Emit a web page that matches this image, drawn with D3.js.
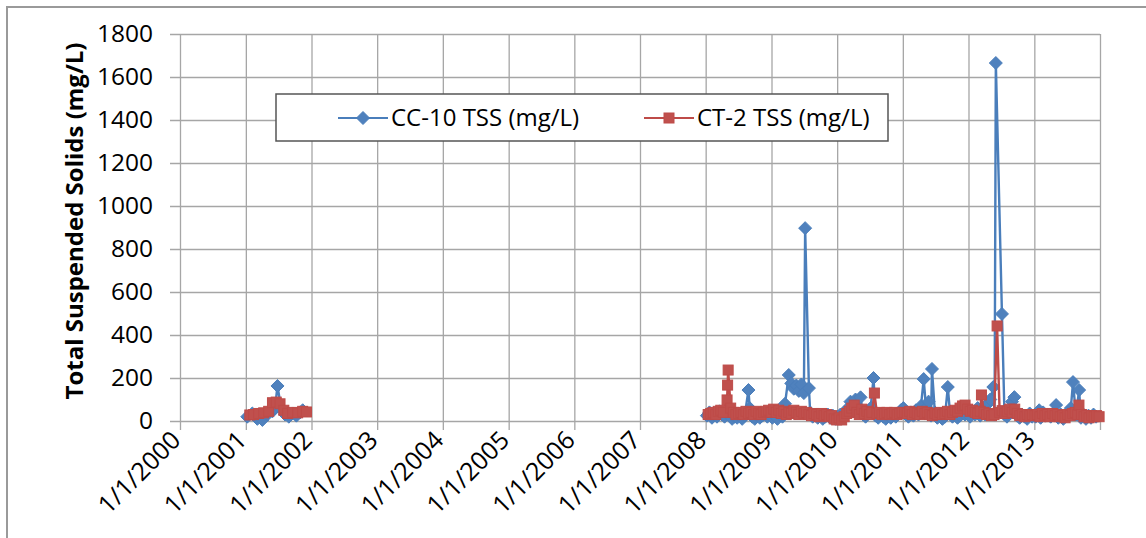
<!DOCTYPE html>
<html>
<head>
<meta charset="utf-8">
<script src="https://cdn.jsdelivr.net/npm/d3@7"></script>
<style>
  html, body { margin: 0; padding: 0; background: #fff; }
  svg { display: block; font-family: "Open Sans", sans-serif; }
</style>
</head>
<body>
<svg id="chart" width="1146" height="538"></svg>
<script>
// Sampling records: [date, TSS in mg/L]
const cc10 = [
  ["2001-01-09",20],["2001-02-06",35],["2001-03-06",10],["2001-04-03",5],["2001-05-01",30],["2001-05-29",45],
  ["2001-06-12",60],["2001-06-26",163],["2001-07-17",55],["2001-08-07",30],["2001-08-28",20],["2001-09-18",35],
  ["2001-10-09",25],["2001-10-30",40],["2001-11-13",50],
  ["2008-01-08",25],["2008-01-22",40],["2008-02-05",15],["2008-02-19",30],["2008-03-04",20],["2008-03-18",45],
  ["2008-04-01",30],["2008-04-15",20],["2008-04-29",50],["2008-05-13",25],["2008-05-27",10],["2008-06-10",20],
  ["2008-06-24",15],["2008-07-08",30],["2008-07-22",10],["2008-08-05",25],["2008-08-26",144],["2008-09-02",60],
  ["2008-09-16",20],["2008-09-30",10],["2008-10-14",30],["2008-10-28",15],["2008-11-11",25],["2008-11-25",40],
  ["2008-12-09",20],["2008-12-23",30],
  ["2009-01-06",15],["2009-01-20",25],["2009-02-03",10],["2009-02-17",30],["2009-03-03",20],["2009-03-17",80],
  ["2009-04-07",214],["2009-04-21",175],["2009-05-05",150],["2009-05-19",165],["2009-06-02",140],["2009-06-16",170],
  ["2009-06-30",130],["2009-07-07",897],["2009-07-28",153],["2009-08-04",40],["2009-08-18",20],["2009-09-01",30],
  ["2009-09-15",15],["2009-09-29",25],["2009-10-13",10],["2009-10-27",20],["2009-11-10",30],["2009-11-24",15],
  ["2009-12-08",25],["2009-12-22",10],
  ["2010-01-05",20],["2010-01-19",30],["2010-02-02",15],["2010-02-16",40],["2010-03-02",60],["2010-03-16",90],
  ["2010-03-30",45],["2010-04-13",100],["2010-04-27",50],["2010-05-11",110],["2010-05-25",30],["2010-06-08",20],
  ["2010-06-22",40],["2010-07-06",60],["2010-07-22",200],["2010-08-03",25],["2010-08-17",15],["2010-08-31",30],
  ["2010-09-14",20],["2010-09-28",10],["2010-10-12",25],["2010-10-26",15],["2010-11-09",30],["2010-11-23",20],
  ["2010-12-07",35],["2010-12-21",50],
  ["2011-01-04",60],["2011-01-18",30],["2011-02-01",20],["2011-02-15",40],["2011-03-01",25],["2011-03-15",50],
  ["2011-03-29",30],["2011-04-12",70],["2011-04-27",195],["2011-05-10",60],["2011-05-24",90],["2011-06-07",25],
  ["2011-06-12",242],["2011-06-28",40],["2011-07-12",15],["2011-07-26",25],["2011-08-09",10],["2011-08-23",20],
  ["2011-09-08",158],["2011-09-20",40],["2011-10-04",20],["2011-10-18",35],["2011-11-01",15],["2011-11-15",25],
  ["2011-11-29",40],["2011-12-13",30],["2011-12-27",50],
  ["2012-01-10",20],["2012-01-24",40],["2012-02-07",30],["2012-02-21",60],["2012-03-06",25],["2012-03-20",50],
  ["2012-04-03",30],["2012-04-17",80],["2012-05-01",100],["2012-05-18",158],["2012-05-25",30],["2012-06-01",1665],
  ["2012-07-05",498],["2012-07-19",30],["2012-08-02",20],["2012-08-16",40],["2012-08-30",90],["2012-09-12",111],
  ["2012-09-27",25],["2012-10-11",15],["2012-10-25",30],["2012-11-08",20],["2012-11-22",10],["2012-12-06",35],
  ["2012-12-20",20],
  ["2013-01-08",20],["2013-01-28",50],["2013-02-05",15],["2013-02-19",40],["2013-03-05",25],["2013-03-19",30],
  ["2013-04-02",20],["2013-04-16",35],["2013-05-02",74],["2013-05-14",15],["2013-05-28",30],["2013-06-11",10],
  ["2013-06-25",25],["2013-07-09",40],["2013-07-23",60],["2013-08-04",181],["2013-08-20",30],["2013-09-07",144],
  ["2013-09-17",15],["2013-10-01",30],["2013-10-15",10],["2013-10-29",25],["2013-11-12",15],["2013-11-26",30],
  ["2013-12-10",20]
];

const ct2 = [
  ["2001-01-23",28],["2001-02-13",30],["2001-03-13",35],["2001-04-10",38],["2001-05-08",45],["2001-05-29",85],
  ["2001-06-19",88],["2001-07-10",80],["2001-07-31",50],["2001-08-21",35],["2001-09-18",40],["2001-10-16",38],
  ["2001-11-13",45],["2001-12-04",42],
  ["2008-01-15",30],["2008-01-29",35],["2008-02-12",40],["2008-02-26",30],["2008-03-11",45],["2008-03-25",50],
  ["2008-04-08",40],["2008-04-29",98],["2008-05-02",167],["2008-05-05",237],["2008-05-19",60],["2008-06-03",40],
  ["2008-06-17",30],["2008-07-01",35],["2008-07-15",40],["2008-07-29",30],["2008-08-12",45],["2008-08-26",35],
  ["2008-09-09",40],["2008-09-23",30],["2008-10-07",45],["2008-10-21",35],["2008-11-04",30],["2008-11-18",40],
  ["2008-12-02",45],["2008-12-16",50],["2008-12-30",40],
  ["2009-01-13",55],["2009-01-27",40],["2009-02-10",50],["2009-02-24",35],["2009-03-10",45],["2009-03-24",30],
  ["2009-04-07",40],["2009-04-21",35],["2009-05-05",50],["2009-05-19",40],["2009-06-02",30],["2009-06-16",45],
  ["2009-06-30",35],["2009-07-14",40],["2009-07-28",30],["2009-08-11",25],["2009-08-25",35],["2009-09-08",30],
  ["2009-09-22",20],["2009-10-06",35],["2009-10-20",25],["2009-11-03",30],["2009-11-17",20],["2009-12-01",25],
  ["2009-12-15",10],["2009-12-29",5],
  ["2010-01-12",15],["2010-01-26",5],["2010-02-09",20],["2010-02-23",35],["2010-03-09",45],["2010-03-23",60],
  ["2010-04-06",74],["2010-04-20",40],["2010-05-04",30],["2010-05-18",55],["2010-06-01",35],["2010-06-15",45],
  ["2010-06-29",30],["2010-07-13",40],["2010-07-27",130],["2010-08-10",35],["2010-08-24",40],["2010-09-07",30],
  ["2010-09-21",35],["2010-10-05",40],["2010-10-19",30],["2010-11-02",35],["2010-11-16",40],["2010-11-30",30],
  ["2010-12-14",35],["2010-12-28",40],
  ["2011-01-11",40],["2011-01-25",35],["2011-02-08",45],["2011-02-22",30],["2011-03-08",40],["2011-03-22",35],
  ["2011-04-05",30],["2011-04-19",45],["2011-05-03",35],["2011-05-17",40],["2011-05-31",30],["2011-06-14",25],
  ["2011-06-28",35],["2011-07-12",30],["2011-07-26",40],["2011-08-09",30],["2011-08-23",35],["2011-09-06",45],
  ["2011-09-20",30],["2011-10-04",40],["2011-10-18",50],["2011-11-01",45],["2011-11-15",60],["2011-11-29",70],
  ["2011-12-13",74],["2011-12-27",55],
  ["2012-01-10",45],["2012-01-24",50],["2012-02-07",40],["2012-02-21",35],["2012-03-06",45],["2012-03-13",121],
  ["2012-03-27",40],["2012-04-10",30],["2012-04-24",35],["2012-05-08",25],["2012-05-22",30],["2012-06-08",442],
  ["2012-06-22",40],["2012-07-06",48],["2012-07-20",35],["2012-08-03",45],["2012-08-17",55],["2012-08-31",40],
  ["2012-09-14",55],["2012-09-28",35],["2012-10-12",25],["2012-10-26",30],["2012-11-09",20],["2012-11-23",30],
  ["2012-12-07",25],["2012-12-21",30],
  ["2013-01-04",25],["2013-01-18",30],["2013-02-01",20],["2013-02-15",35],["2013-03-01",25],["2013-03-15",30],
  ["2013-03-29",20],["2013-04-12",35],["2013-04-26",25],["2013-05-10",30],["2013-05-24",20],["2013-06-07",25],
  ["2013-06-21",15],["2013-07-05",30],["2013-07-19",25],["2013-08-02",35],["2013-08-16",40],["2013-08-30",30],
  ["2013-09-06",74],["2013-09-20",30],["2013-10-04",20],["2013-10-18",25],["2013-11-01",15],["2013-11-15",25],
  ["2013-11-29",20],["2013-12-13",25],["2013-12-27",20]
];

const yTicks = [0, 200, 400, 600, 800, 1000, 1200, 1400, 1600, 1800];
const xYears = [2000, 2001, 2002, 2003, 2004, 2005, 2006, 2007, 2008, 2009, 2010, 2011, 2012, 2013, 2014];
const seriesNames = ["CC-10 TSS (mg/L)", "CT-2 TSS (mg/L)"];
const yTitle = "Total Suspended Solids (mg/L)";

const blue = "#4A7EBB", blueFill = "#4F81BD";
const red = "#BE4B48", redFill = "#C0504D";
const gridColor = "#a6a6a6";

const parse = d3.timeParse("%Y-%m-%d");
const prep = rows => rows.map(([d, v]) => ({ date: parse(d), value: v }));

// break the line wherever there is a multi-year gap between samples
function segments(points) {
  const out = [];
  let cur = [];
  points.forEach((p, i) => {
    if (i > 0 && (p.date - points[i - 1].date) > 365 * 864e5) { out.push(cur); cur = []; }
    cur.push(p);
  });
  if (cur.length) out.push(cur);
  return out;
}

const svg = d3.select("#chart");
const plotLeft = 180, plotRight = 1100, plotTop = 34, plotBottom = 421;

const x = d3.scaleTime()
  .domain([new Date(2000, 0, 1), new Date(2014, 0, 1)])
  .range([plotLeft, plotRight]);
const y = d3.scaleLinear().domain([0, 1800]).range([plotBottom, plotTop]);

// outer chart frame
svg.append("rect")
  .attr("x", 7).attr("y", 7).attr("width", 1160).attr("height", 560)
  .attr("fill", "none").attr("stroke", "#9a9a9a").attr("stroke-width", 2);

// horizontal gridlines + y axis
const yAxis = d3.axisLeft(y).tickValues(yTicks).tickSize(-(plotRight - plotLeft)).tickPadding(27)
  .tickFormat(d3.format("d"));
const gy = svg.append("g").attr("transform", `translate(${plotLeft},0)`).call(yAxis);
gy.select(".domain").remove();
gy.selectAll(".tick line").attr("stroke", gridColor).attr("stroke-width", 1.3).attr("x1", -10);
gy.selectAll(".tick text").attr("fill", "#000").attr("font-size", 24.5).attr("font-family", "Open Sans");

// vertical gridlines + x axis
const yearDates = xYears.map(yr => new Date(yr, 0, 1));
const gx = svg.append("g").attr("transform", `translate(0,${plotBottom})`)
  .call(d3.axisBottom(x).tickValues(yearDates).tickSize(9)
    .tickFormat(d => d.getFullYear() < 2014 ? d3.timeFormat("%-m/%-d/%Y")(d) : ""));
gx.select(".domain").remove();
gx.selectAll(".tick line").attr("stroke", gridColor).attr("stroke-width", 1.3).attr("y1", -(plotBottom - plotTop));
gx.selectAll(".tick text")
  .attr("fill", "#000").attr("font-size", 25).attr("font-family", "Open Sans")
  .attr("text-anchor", "end").attr("dy", null)
  .attr("transform", "translate(-3,16) rotate(-45)")
  .attr("y", 0).attr("x", 0).attr("dominant-baseline", "middle");

// y axis title
svg.append("text")
  .attr("transform", `translate(83,221) rotate(-90)`)
  .attr("text-anchor", "middle")
  .attr("font-size", 24).attr("font-weight", "bold").attr("fill", "#000")
  .text(yTitle);

const line = d3.line().x(d => x(d.date)).y(d => y(d.value));
const diamond = r => `M0,${-r}L${r},0L0,${r}L${-r},0Z`;

function drawSeries(rows, color, fill, marker) {
  const pts = prep(rows);
  const g = svg.append("g");
  g.selectAll("path.seg").data(segments(pts)).join("path")
    .attr("class", "seg").attr("d", line)
    .attr("fill", "none").attr("stroke", color).attr("stroke-width", 2.4).attr("stroke-linejoin", "round");
  if (marker === "diamond") {
    g.selectAll("path.mk").data(pts).join("path").attr("class", "mk")
      .attr("transform", d => `translate(${x(d.date)},${y(d.value)})`)
      .attr("d", diamond(6.5)).attr("fill", fill).attr("stroke", color).attr("stroke-width", 1);
  } else {
    g.selectAll("rect.mk").data(pts).join("rect").attr("class", "mk")
      .attr("x", d => x(d.date) - 5).attr("y", d => y(d.value) - 5)
      .attr("width", 10).attr("height", 10).attr("fill", fill).attr("stroke", color).attr("stroke-width", 1);
  }
}
drawSeries(cc10, blue, blueFill, "diamond");
drawSeries(ct2, red, redFill, "square");

// legend
const lg = svg.append("g");
lg.append("rect").attr("x", 276).attr("y", 94).attr("width", 612).attr("height", 47)
  .attr("fill", "#fff").attr("stroke", "#555").attr("stroke-width", 1.5);
const legendItems = [
  { name: seriesNames[0], color: blue, fill: blueFill, marker: "diamond", x0: 338 },
  { name: seriesNames[1], color: red, fill: redFill, marker: "square", x0: 644 }
];
legendItems.forEach(it => {
  const cy = 118;
  lg.append("line").attr("x1", it.x0).attr("x2", it.x0 + 50).attr("y1", cy).attr("y2", cy)
    .attr("stroke", it.color).attr("stroke-width", 2);
  if (it.marker === "diamond") {
    lg.append("path").attr("transform", `translate(${it.x0 + 25},${cy})`).attr("d", diamond(6.5))
      .attr("fill", it.fill).attr("stroke", it.color);
  } else {
    lg.append("rect").attr("x", it.x0 + 20).attr("y", cy - 5).attr("width", 10).attr("height", 10)
      .attr("fill", it.fill).attr("stroke", it.color);
  }
  lg.append("text").attr("x", it.x0 + 53).attr("y", cy).attr("dy", "0.35em")
    .attr("font-size", 24).attr("fill", "#000").text(it.name);
});
</script>
</body>
</html>
